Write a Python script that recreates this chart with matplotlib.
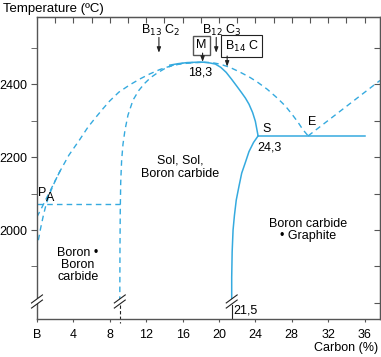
import numpy as np
import matplotlib
matplotlib.use("Agg")
import matplotlib.pyplot as plt
from matplotlib.ticker import MultipleLocator

plt.rcParams['font.family'] = ['Liberation Sans', 'DejaVu Sans']
plt.rcParams['font.size'] = 9

blue = '#35aadf'
axcol = '#555555'

# boundary lines (carbon %, temperature)
liq_left_x = [0.0, 0.5, 1.0, 1.5, 2.5, 3.5, 4.7, 5.6, 6.5, 7.3, 8.0, 9.0, 10.2,
              11.3, 12.4, 13.5, 14.6, 15.7, 16.8, 18.3]
liq_left_y = [2036, 2060, 2085, 2110, 2160, 2205, 2248, 2282, 2310, 2334, 2354, 2378,
              2398, 2414, 2428, 2440, 2449, 2455, 2458, 2460]
low_left_x = [0.15, 0.4, 0.7, 1.0, 1.4, 2.0, 2.6]
low_left_y = [1972, 2005, 2040, 2070, 2100, 2135, 2165]
sol_left_x = [9.1, 9.12, 9.15, 9.2, 9.3, 9.45, 9.67, 10.0, 10.55, 11.2, 11.87, 12.5,
              13.19, 14.0, 14.95, 16.0, 17.0, 18.3]
sol_left_y = [1803, 1950, 2050, 2130, 2190, 2235, 2274, 2315, 2356, 2383, 2403, 2418,
              2430, 2442, 2452, 2457, 2459, 2460]
peak_x = [14.6, 15.5, 16.5, 17.5, 18.3, 19.0, 19.6, 20.2, 20.8, 21.4, 22.0, 22.5,
          22.9, 23.3, 23.7, 24.0, 24.3]
peak_y = [2452, 2456, 2459, 2460, 2460, 2458, 2455, 2446, 2432, 2413, 2393, 2376,
          2362, 2345, 2322, 2298, 2258]
solidus_x = [24.3, 23.8, 23.3, 22.9, 22.5, 22.2, 21.9, 21.7, 21.55, 21.45, 21.4, 21.4]
solidus_y = [2258, 2240, 2215, 2185, 2156, 2120, 2082, 2040, 2000, 1940, 1870, 1803]
liq_right_x = [18.3, 19.2, 20.1, 21.2, 22.3, 23.3, 24.2, 25.3, 26.4, 27.3, 28.1,
               28.7, 29.2, 29.8]
liq_right_y = [2460, 2459, 2455, 2446, 2433, 2420, 2406, 2386, 2362, 2340, 2315,
               2295, 2276, 2258]
graph_x = [29.8, 37.7]
graph_y = [2258, 2410]
eut_x = [24.3, 36.1]
eut_y = [2258, 2258]
per_x = [0.0, 9.1]
per_y = [2071, 2071]

x_ticks = [0, 4, 8, 12, 16, 20, 24, 28, 32, 36]
x_labels = ['B', '4', '8', '12', '16', '20', '24', '28', '32', '36']

fig = plt.figure(figsize=(3.81, 3.57), dpi=100)
ax = fig.add_axes([37 / 381, 1 - 319 / 357, 343 / 381, 302 / 357])
ax.set_xlim(0, 37.7)
ax.set_ylim(1756, 2584)

dash = dict(color=blue, lw=1.0, dashes=(4, 3))
ax.plot(liq_left_x, liq_left_y, **dash)
ax.plot(low_left_x, low_left_y, **dash)
ax.plot(sol_left_x, sol_left_y, **dash)
ax.plot(liq_right_x, liq_right_y, **dash)
ax.plot(graph_x, graph_y, **dash)
ax.plot(per_x, per_y, **dash)
ax.plot(peak_x, peak_y, color=blue, lw=1.1)
ax.plot(solidus_x, solidus_y, color=blue, lw=1.1)
ax.plot(eut_x, eut_y, color=blue, lw=1.1)

# black continuation below the breaks
ax.plot([9.1, 9.1], [1795, 1745], color='#222222', lw=0.8, dashes=(3, 2), clip_on=False)
ax.plot([21.4, 21.4], [1795, 1756], color='#222222', lw=0.8)

# break marks
for bx in [0.0, 9.1, 21.4]:
    ax.fill([bx - 0.6, bx + 0.6, bx + 0.6, bx - 0.6], [1786, 1808, 1822, 1800],
            color='white', zorder=3, clip_on=False, lw=0)
    for by in [1797, 1811]:
        ax.plot([bx - 0.6, bx + 0.6], [by - 11, by + 11], color='#222222', lw=0.8,
                zorder=4, clip_on=False)

for s in ax.spines.values():
    s.set_color(axcol)
    s.set_linewidth(1.0)

ax.set_xticks(x_ticks)
ax.set_xticklabels(x_labels)
ax.set_yticks([2000, 2200, 2400])
ax.yaxis.set_minor_locator(MultipleLocator(100))
ax.tick_params(axis='x', direction='out', length=2.5, color=axcol, pad=4.5)
ax.tick_params(axis='y', which='both', direction='out', length=4, color=axcol, pad=3)

top = ax.secondary_xaxis('top')
top.set_xticks(np.arange(2, 38, 2))
top.tick_params(direction='in', length=4, color=axcol, labeltop=False)
top.spines['top'].set_color(axcol)
right = ax.secondary_yaxis('right')
right.set_yticks(np.arange(1800, 2600, 100))
right.tick_params(direction='in', length=4, color=axcol, labelright=False)
right.spines['right'].set_color(axcol)

fig.text(3 / 381, 1 - 9 / 357, 'Temperature (ºC)', ha='left', va='center', fontsize=9.5)
fig.text(378 / 381, 1 - 348 / 357, 'Carbon (%)', ha='right', va='center')

# compound markers
ax.text(13.6, 2548, 'B$_{13}$ C$_2$', ha='center', va='center')
ax.text(20.3, 2548, 'B$_{12}$ C$_3$', ha='center', va='center')
ax.text(18.1, 2506, 'M', ha='center', va='center',
        bbox=dict(boxstyle='square,pad=0.25', fc='white', ec=axcol, lw=1))
ax.text(22.5, 2504, 'B$_{14}$ C', ha='center', va='center',
        bbox=dict(boxstyle='square,pad=0.3', fc='white', ec='#222222', lw=0.8))
arr = dict(arrowstyle='-|>,head_length=0.35,head_width=0.13', color='#222222', lw=0.8,
           shrinkA=0, shrinkB=0)
ax.annotate('', xy=(13.4, 2486), xytext=(13.4, 2528), arrowprops=arr)
ax.annotate('', xy=(19.7, 2486), xytext=(19.7, 2528), arrowprops=arr)
ax.annotate('', xy=(18.2, 2461), xytext=(18.2, 2485), arrowprops=arr)
ax.annotate('', xy=(20.9, 2448), xytext=(20.9, 2477), arrowprops=arr)

ax.text(17.9, 2433, '18,3', ha='center', va='center')
ax.text(25.2, 2277, 'S', ha='center', va='center')
ax.text(25.6, 2225, '24,3', ha='center', va='center')
ax.text(30.2, 2296, 'E', ha='center', va='center')
ax.text(0.55, 2101, 'P', ha='center', va='center')
ax.text(1.4, 2088, 'A', ha='center', va='center')
ax.text(15.7, 2172, 'Sol, Sol,\nBoron carbide', ha='center', va='center', linespacing=1.1)
ax.text(4.5, 1904, 'Boron •\nBoron\ncarbide', ha='center', va='center', linespacing=1.05)
ax.text(29.8, 2000, 'Boron carbide\n• Graphite', ha='center', va='center', linespacing=1.1)
ax.text(22.9, 1778, '21,5', ha='center', va='center')

fig.savefig('out.png', dpi=100)
